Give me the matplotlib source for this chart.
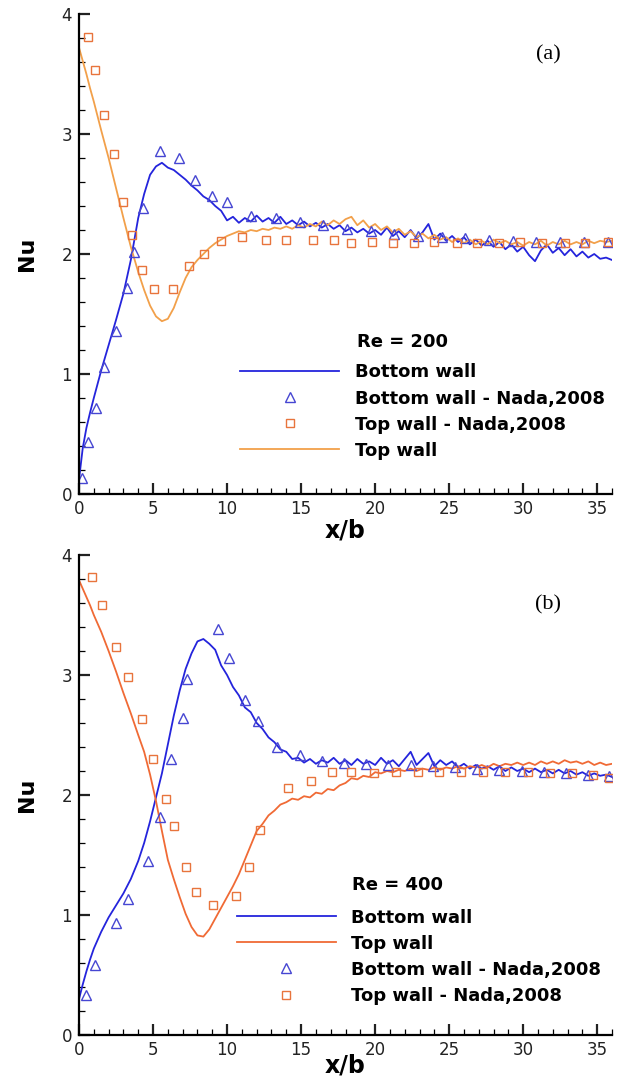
import matplotlib
matplotlib.use("Agg")
import matplotlib.pyplot as plt
from matplotlib.ticker import MultipleLocator

plt.rcParams["font.family"] = ["DejaVu Sans"]

# ---------------- simulation grid (x/b), shared by all four curves ----------------
x_sim = [0.0, 0.25, 0.5, 0.75, 1.0, 1.5, 2.0, 2.5, 3.0, 3.5, 4.0, 4.4, 4.8, 5.2, 5.6,
         6.0, 6.4, 6.8, 7.2, 7.6, 8.0, 8.4, 8.8, 9.2, 9.6, 10.0, 10.4, 10.8, 11.2, 11.6,
         12.0, 12.4, 12.8, 13.2, 13.6, 14.0, 14.4, 14.8, 15.2, 15.6, 16.0, 16.4, 16.8,
         17.2, 17.6, 18.0, 18.4, 18.8, 19.2, 19.6, 20.0, 20.4, 20.8, 21.2, 21.6, 22.0,
         22.4, 22.8, 23.2, 23.6, 24.0, 24.4, 24.8, 25.2, 25.6, 26.0, 26.4, 26.8, 27.2,
         27.6, 28.0, 28.4, 28.8, 29.2, 29.6, 30.0, 30.4, 30.8, 31.2, 31.6, 32.0, 32.4,
         32.8, 33.2, 33.6, 34.0, 34.4, 34.8, 35.2, 35.6, 36.0]

# ---------------- Re = 200 ----------------
nu_bottom_200 = [0.12, 0.38, 0.55, 0.68, 0.80, 1.03, 1.24, 1.45, 1.67, 1.95, 2.30, 2.50,
                 2.66, 2.73, 2.76, 2.72, 2.70, 2.66, 2.62, 2.57, 2.53, 2.48, 2.45, 2.40,
                 2.36, 2.28, 2.31, 2.26, 2.30, 2.27, 2.32, 2.27, 2.30, 2.26, 2.31, 2.25,
                 2.28, 2.24, 2.27, 2.23, 2.26, 2.22, 2.25, 2.21, 2.24, 2.19, 2.22, 2.18,
                 2.21, 2.17, 2.20, 2.16, 2.22, 2.15, 2.19, 2.14, 2.20, 2.13, 2.18, 2.25,
                 2.12, 2.17, 2.11, 2.15, 2.10, 2.14, 2.08, 2.12, 2.07, 2.11, 2.06, 2.10,
                 2.04, 2.08, 2.02, 2.06, 1.99, 1.94, 2.03, 2.08, 2.01, 2.05, 1.99, 2.04,
                 1.98, 2.02, 1.97, 2.00, 1.96, 1.97, 1.95]
nu_top_200 = [3.72, 3.61, 3.50, 3.38, 3.27, 3.03, 2.80, 2.55, 2.30, 2.06, 1.85, 1.70,
              1.57, 1.48, 1.44, 1.46, 1.55, 1.68, 1.80, 1.89, 1.95, 2.00, 2.05, 2.09,
              2.12, 2.15, 2.17, 2.19, 2.18, 2.20, 2.19, 2.21, 2.20, 2.22, 2.21, 2.23,
              2.21, 2.24, 2.22, 2.25, 2.23, 2.27, 2.24, 2.28, 2.25, 2.29, 2.31, 2.24,
              2.28, 2.22, 2.25, 2.20, 2.23, 2.18, 2.21, 2.16, 2.19, 2.14, 2.17, 2.13,
              2.16, 2.12, 2.14, 2.10, 2.13, 2.09, 2.12, 2.08, 2.11, 2.08, 2.12, 2.09,
              2.11, 2.08, 2.10, 2.07, 2.10, 2.08, 2.11, 2.07, 2.10, 2.08, 2.11, 2.08,
              2.10, 2.08, 2.11, 2.09, 2.11, 2.10, 2.11]

nada_x_bottom_200 = [0.22, 0.63, 1.17, 1.70, 2.50, 3.26, 3.70, 4.30, 5.47, 6.76, 7.84,
                     8.97, 10.0, 11.6, 13.3, 14.9, 16.5, 18.1, 19.7, 21.3, 22.9, 24.5,
                     26.1, 27.7, 29.3, 30.9, 32.5, 34.1, 35.7]
nada_nu_bottom_200 = [0.13, 0.43, 0.72, 1.06, 1.36, 1.72, 2.02, 2.38, 2.86, 2.80, 2.62,
                      2.48, 2.43, 2.32, 2.30, 2.27, 2.24, 2.21, 2.19, 2.17, 2.15, 2.14,
                      2.13, 2.12, 2.11, 2.10, 2.10, 2.10, 2.10]
nada_x_top_200 = [0.63, 1.08, 1.69, 2.39, 2.95, 3.60, 4.23, 5.07, 6.35, 7.43, 8.45, 9.60,
                  11.0, 12.6, 14.0, 15.8, 17.2, 18.4, 19.8, 21.2, 22.6, 24.0, 25.5, 26.9,
                  28.4, 29.8, 31.3, 32.8, 34.2, 35.7]
nada_nu_top_200 = [3.81, 3.53, 3.16, 2.83, 2.43, 2.16, 1.87, 1.71, 1.71, 1.90, 2.00, 2.11,
                   2.14, 2.12, 2.12, 2.12, 2.12, 2.09, 2.10, 2.09, 2.09, 2.10, 2.09, 2.09,
                   2.09, 2.10, 2.09, 2.09, 2.09, 2.10]

# ---------------- Re = 400 ----------------
nu_bottom_400 = [0.30, 0.42, 0.53, 0.63, 0.72, 0.86, 0.98, 1.08, 1.18, 1.30, 1.45, 1.60,
                 1.78, 1.98, 2.18, 2.42, 2.66, 2.87, 3.05, 3.18, 3.28, 3.30, 3.26, 3.21,
                 3.08, 3.00, 2.90, 2.83, 2.73, 2.69, 2.60, 2.55, 2.48, 2.44, 2.38, 2.36,
                 2.30, 2.31, 2.27, 2.30, 2.26, 2.29, 2.27, 2.31, 2.26, 2.29, 2.25, 2.30,
                 2.26, 2.28, 2.25, 2.31, 2.26, 2.29, 2.24, 2.30, 2.36, 2.25, 2.30, 2.35,
                 2.24, 2.29, 2.25, 2.28, 2.23, 2.26, 2.22, 2.25, 2.22, 2.24, 2.21, 2.24,
                 2.20, 2.23, 2.20, 2.22, 2.19, 2.22, 2.19, 2.21, 2.18, 2.21, 2.18, 2.20,
                 2.17, 2.19, 2.16, 2.18, 2.16, 2.17, 2.15]
nu_top_400 = [3.79, 3.72, 3.65, 3.58, 3.50, 3.36, 3.20, 3.03, 2.85, 2.68, 2.50, 2.36,
              2.17, 1.95, 1.70, 1.46, 1.30, 1.15, 1.01, 0.90, 0.83, 0.82, 0.88, 0.97,
              1.06, 1.15, 1.24, 1.34, 1.46, 1.58, 1.70, 1.76, 1.83, 1.87, 1.92, 1.94,
              1.97, 1.96, 1.99, 1.98, 2.02, 2.01, 2.05, 2.04, 2.08, 2.10, 2.14, 2.13,
              2.16, 2.15, 2.19, 2.18, 2.20, 2.19, 2.21, 2.20, 2.22, 2.20, 2.22, 2.21,
              2.23, 2.21, 2.23, 2.22, 2.24, 2.22, 2.24, 2.23, 2.25, 2.23, 2.26, 2.24,
              2.26, 2.25, 2.27, 2.25, 2.27, 2.25, 2.28, 2.26, 2.28, 2.26, 2.29, 2.27,
              2.28, 2.26, 2.28, 2.25, 2.27, 2.25, 2.26]

nada_x_bottom_400 = [0.45, 1.08, 2.50, 3.33, 4.66, 5.45, 6.20, 7.00, 7.30, 9.40, 10.1,
                     11.2, 12.1, 13.4, 14.9, 16.4, 17.9, 19.4, 20.9, 22.4, 23.9, 25.4,
                     26.9, 28.4, 29.9, 31.4, 32.9, 34.4, 35.8]
nada_nu_bottom_400 = [0.33, 0.58, 0.93, 1.13, 1.45, 1.82, 2.30, 2.64, 2.97, 3.38, 3.14,
                      2.79, 2.62, 2.40, 2.33, 2.28, 2.27, 2.26, 2.25, 2.25, 2.24, 2.23,
                      2.22, 2.21, 2.20, 2.19, 2.18, 2.17, 2.16]
nada_x_top_400 = [0.86, 1.58, 2.50, 3.33, 4.28, 4.98, 5.86, 6.40, 7.20, 7.90, 9.07, 10.6,
                  11.5, 12.2, 14.1, 15.7, 17.1, 18.4, 19.9, 21.4, 22.9, 24.3, 25.8, 27.3,
                  28.8, 30.3, 31.8, 33.3, 34.7, 35.8]
nada_nu_top_400 = [3.82, 3.58, 3.23, 2.98, 2.63, 2.30, 1.97, 1.74, 1.40, 1.19, 1.08, 1.16,
                   1.40, 1.71, 2.06, 2.12, 2.19, 2.19, 2.18, 2.19, 2.19, 2.19, 2.19, 2.19,
                   2.19, 2.19, 2.18, 2.18, 2.17, 2.14]

BLUE = "#2424dc"
TRI = "#4646d2"
ORANGE_A = "#f2a04a"
ORANGE_B = "#f06a35"
SQ = "#e8743c"
LEGEND_FONT = {"size": 13, "weight": "bold"}

fig = plt.figure(figsize=(6.2, 10.83), dpi=100)
ax_a = fig.add_axes([79 / 620, (1083 - 494) / 1083, 533 / 620, 480 / 1083])
ax_b = fig.add_axes([79 / 620, (1083 - 1035) / 1083, 533 / 620, 480 / 1083])


def style_axes(ax, xlabel_y):
    ax.set_xlim(0, 36)
    ax.set_ylim(0, 4)
    for side in ("top", "right"):
        ax.spines[side].set_visible(False)
    for side in ("left", "bottom"):
        ax.spines[side].set_linewidth(1.6)
    ax.xaxis.set_major_locator(MultipleLocator(5))
    ax.xaxis.set_minor_locator(MultipleLocator(1))
    ax.yaxis.set_major_locator(MultipleLocator(1))
    ax.yaxis.set_minor_locator(MultipleLocator(0.2))
    ax.tick_params(which="major", direction="in", length=8, width=1.6,
                   labelsize=12, colors="#222222")
    ax.tick_params(which="minor", direction="in", length=4, width=0.9)
    ax.tick_params(axis="y", pad=5)
    ax.tick_params(axis="x", pad=4)
    ax.set_xlabel("x/b", fontsize=17, fontweight="bold")
    ax.set_ylabel("Nu", fontsize=16, fontweight="bold")
    ax.xaxis.set_label_coords(0.5, xlabel_y)
    ax.yaxis.set_label_coords(-0.079, 0.5)


def add_legend(ax, handles, labels, anchor):
    ax.legend(handles, labels, loc="upper left", bbox_to_anchor=anchor, frameon=False,
              borderpad=0, borderaxespad=0, handlelength=5.5, handletextpad=0.85,
              labelspacing=0.45, numpoints=1, prop=LEGEND_FONT)


# ---- panel (a), Re = 200 ----
style_axes(ax_a, -0.05)
l_bot, = ax_a.plot(x_sim, nu_bottom_200, color=BLUE, lw=1.3)
l_top, = ax_a.plot(x_sim, nu_top_200, color=ORANGE_A, lw=1.3)
m_bot, = ax_a.plot(nada_x_bottom_200, nada_nu_bottom_200, linestyle="none", marker="^",
                   ms=7, mfc="none", mec=TRI, mew=1.0)
m_top, = ax_a.plot(nada_x_top_200, nada_nu_top_200, linestyle="none", marker="s",
                   ms=6, mfc="none", mec=SQ, mew=1.0)
ax_a.text(0.5216, 0.317, "Re = 200", transform=ax_a.transAxes, ha="left", va="center",
          fontsize=13, fontweight="bold")
add_legend(ax_a, [l_bot, m_bot, m_top, l_top],
           ["Bottom wall", "Bottom wall - Nada,2008", "Top wall - Nada,2008", "Top wall"],
           (0.302, 0.272))
ax_a.text(0.88, 0.915, "(a)", transform=ax_a.transAxes, ha="center", va="center",
          fontsize=16, family="Liberation Serif")

# ---- panel (b), Re = 400 ----
style_axes(ax_b, -0.038)
l_bot, = ax_b.plot(x_sim, nu_bottom_400, color=BLUE, lw=1.3)
l_top, = ax_b.plot(x_sim, nu_top_400, color=ORANGE_B, lw=1.3)
m_bot, = ax_b.plot(nada_x_bottom_400, nada_nu_bottom_400, linestyle="none", marker="^",
                   ms=7, mfc="none", mec=TRI, mew=1.0)
m_top, = ax_b.plot(nada_x_top_400, nada_nu_top_400, linestyle="none", marker="s",
                   ms=6, mfc="none", mec=SQ, mew=1.0)
ax_b.text(0.5122, 0.3125, "Re = 400", transform=ax_b.transAxes, ha="left", va="center",
          fontsize=13, fontweight="bold")
add_legend(ax_b, [l_bot, l_top, m_bot, m_top],
           ["Bottom wall", "Top wall", "Bottom wall - Nada,2008", "Top wall - Nada,2008"],
           (0.296, 0.2635))
ax_b.text(0.88, 0.896, "(b)", transform=ax_b.transAxes, ha="center", va="center",
          fontsize=16, family="Liberation Serif")

fig.savefig("out.png", dpi=100)
